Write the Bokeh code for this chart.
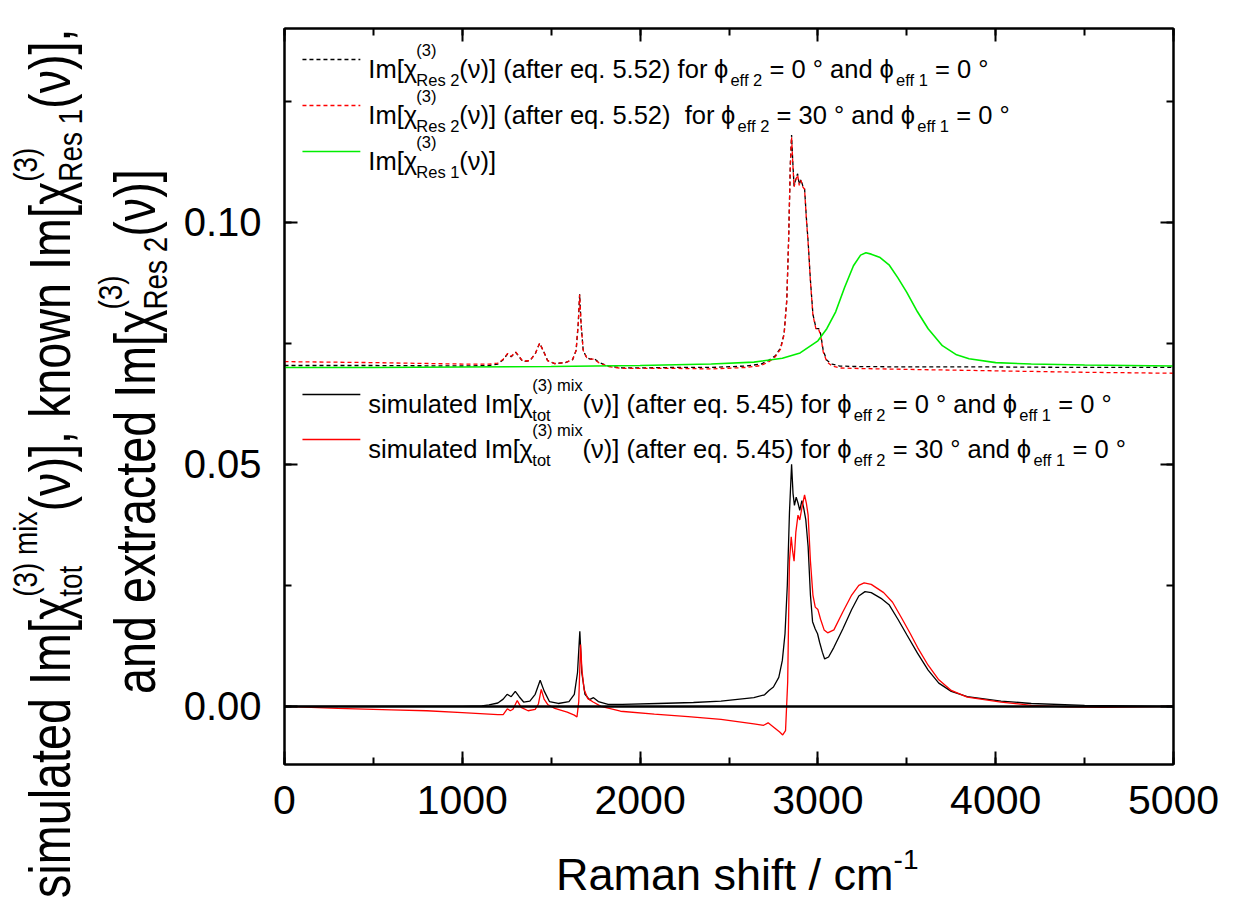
import math
from bokeh.plotting import figure
from bokeh.models import (Label, Span, LinearAxis, SingleIntervalTicker, PrintfTickFormatter, Range1d,
                          Div, CustomJSTickFormatter)
from bokeh.layouts import row, column
from bokeh.embed import file_html
from bokeh.resources import INLINE

# ---------------- data ----------------
res2_phi0_x = [0, 500, 1000, 1150, 1200, 1230, 1255, 1275, 1300, 1320, 1340, 1380, 1410, 1435, 1455, 1480,
               1520, 1580, 1620, 1640, 1652, 1660, 1668, 1680, 1700, 1720, 1742, 1770, 1820, 1900, 2000,
               2200, 2400, 2600, 2680, 2720, 2740, 2760, 2790, 2810, 2825, 2835, 2845, 2852, 2858, 2866,
               2876, 2886, 2895, 2905, 2915, 2925, 2935, 2945, 2958, 2972, 2990, 3005, 3015, 3030, 3050,
               3080, 3120, 3200, 3500, 4000, 4500, 5000]
res2_phi0_y = [0.0704, 0.0704, 0.0703, 0.0704, 0.0707, 0.0716, 0.0728, 0.0722, 0.0731, 0.0722, 0.0712, 0.0714,
               0.0728, 0.0750, 0.0735, 0.0714, 0.0708, 0.0710, 0.0716, 0.0735, 0.0790, 0.0851, 0.0790, 0.0735,
               0.0720, 0.0717, 0.0718, 0.0710, 0.0703, 0.0699, 0.0699, 0.0700, 0.0700, 0.0703, 0.0707, 0.0714,
               0.0719, 0.0724, 0.0740, 0.0770, 0.0840, 0.0960, 0.1120, 0.1180, 0.1130, 0.1075, 0.1090, 0.1100,
               0.1078, 0.1088, 0.1075, 0.1070, 0.1010, 0.0960, 0.0880, 0.0810, 0.0780, 0.0780, 0.0770, 0.0735,
               0.0715, 0.0707, 0.0703, 0.0702, 0.0701, 0.0701, 0.0700, 0.0700]

res2_phi30_x = res2_phi0_x
res2_phi30_y = [0.0712, 0.0710, 0.0707, 0.0707, 0.0709, 0.0717, 0.0729, 0.0723, 0.0732, 0.0723, 0.0713, 0.0714,
                0.0728, 0.0750, 0.0735, 0.0714, 0.0708, 0.0710, 0.0716, 0.0735, 0.0790, 0.0850, 0.0790, 0.0735,
                0.0720, 0.0717, 0.0717, 0.0709, 0.0702, 0.0698, 0.0698, 0.0698, 0.0697, 0.0700, 0.0704, 0.0711,
                0.0716, 0.0722, 0.0738, 0.0768, 0.0838, 0.0958, 0.1118, 0.1176, 0.1128, 0.1073, 0.1088, 0.1098,
                0.1076, 0.1086, 0.1073, 0.1068, 0.1008, 0.0958, 0.0878, 0.0808, 0.0778, 0.0778, 0.0767, 0.0732,
                0.0712, 0.0703, 0.0699, 0.0698, 0.0696, 0.0693, 0.0690, 0.0688]

res1_x = [0, 500, 1000, 1500, 2000, 2400, 2640, 2800, 2900, 3000, 3050, 3100, 3150, 3200, 3240, 3270, 3300,
          3350, 3400, 3450, 3500, 3560, 3620, 3700, 3780, 3850, 4000, 4200, 4500, 5000]
res1_y = [0.0700, 0.0700, 0.0701, 0.0702, 0.0704, 0.0707, 0.0711, 0.0719, 0.0730, 0.0755, 0.0780, 0.0815,
          0.0865, 0.0910, 0.0932, 0.0937, 0.0934, 0.0927, 0.0912, 0.0885, 0.0855, 0.0815, 0.0780, 0.0745,
          0.0726, 0.0718, 0.0710, 0.0707, 0.0705, 0.0703]

tot_phi0_x = [0, 500, 1000, 1110, 1150, 1200, 1230, 1252, 1275, 1298, 1320, 1345, 1380, 1410, 1438, 1460, 1490,
              1540, 1600, 1630, 1648, 1661, 1672, 1690, 1715, 1738, 1765, 1820, 1900, 2100, 2300, 2455, 2640,
              2700, 2725, 2750, 2780, 2800, 2815, 2828, 2840, 2852, 2860, 2868, 2878, 2888, 2898, 2910, 2920,
              2932, 2945, 2958, 2970, 2985, 2998, 3010, 3025, 3038, 3060, 3090, 3140, 3190, 3230, 3265, 3300,
              3360, 3400, 3450, 3500, 3560, 3620, 3680, 3750, 3840, 4030, 4200, 4500, 5000]
tot_phi0_y = [0.0000, 0.0000, 0.0000, 0.0001, 0.0003, 0.0007, 0.0015, 0.0025, 0.0020, 0.0031, 0.0020, 0.0009,
              0.0011, 0.0025, 0.0054, 0.0032, 0.0010, 0.0006, 0.0010, 0.0025, 0.0070, 0.0155, 0.0070, 0.0025,
              0.0014, 0.0018, 0.0010, 0.0004, 0.0004, 0.0006, 0.0008, 0.0011, 0.0018, 0.0024, 0.0033, 0.0040,
              0.0060, 0.0095, 0.0150, 0.0250, 0.0400, 0.0500, 0.0440, 0.0415, 0.0432, 0.0420, 0.0405, 0.0425,
              0.0410, 0.0385, 0.0330, 0.0230, 0.0175, 0.0160, 0.0150, 0.0132, 0.0112, 0.0098, 0.0102, 0.0122,
              0.0160, 0.0200, 0.0228, 0.0237, 0.0235, 0.0222, 0.0210, 0.0180, 0.0148, 0.0110, 0.0075, 0.0048,
              0.0031, 0.0020, 0.0011, 0.0006, 0.0002, 0.0000]

tot_phi30_x = [0, 300, 600, 800, 1000, 1200, 1230, 1253, 1270, 1285, 1309, 1331, 1370, 1410, 1428, 1444, 1460,
               1480, 1520, 1590, 1630, 1645, 1655, 1665, 1673, 1685, 1706, 1736, 1780, 1890, 2080, 2270, 2455,
               2640, 2695, 2720, 2755, 2785, 2802, 2818, 2830, 2840, 2850, 2858, 2866, 2876, 2888, 2898, 2910,
               2925, 2935, 2945, 2958, 2972, 2985, 3000, 3015, 3035, 3055, 3090, 3140, 3190, 3230, 3260, 3300,
               3370, 3420, 3470, 3520, 3560, 3620, 3680, 3750, 3840, 4030, 4200, 4400, 4600, 4800, 5000]
tot_phi30_y = [0.0000, -0.0004, -0.0007, -0.0009, -0.0013, -0.0017, -0.0017, -0.0005, -0.0009, -0.0006, 0.0012,
               -0.0002, -0.0009, -0.0006, 0.0005, 0.0035, 0.0015, 0.0004, -0.0004, -0.0012, -0.0018, -0.0022,
               0.0010, 0.0128, 0.0075, 0.0035, 0.0016, 0.0009, 0.0000, -0.0010, -0.0016, -0.0021, -0.0027,
               -0.0036, -0.0039, -0.0034, -0.0044, -0.0053, -0.0059, -0.0050, 0.0050, 0.0300, 0.0350, 0.0320,
               0.0300, 0.0360, 0.0395, 0.0385, 0.0410, 0.0437, 0.0420, 0.0395, 0.0300, 0.0230, 0.0205, 0.0200,
               0.0180, 0.0158, 0.0152, 0.0158, 0.0195, 0.0230, 0.0250, 0.0255, 0.0252, 0.0235, 0.0215, 0.0183,
               0.0150, 0.0122, 0.0085, 0.0055, 0.0033, 0.0019, 0.0009, 0.0002, -0.0001, -0.0002, -0.0001, 0.0000]

x_ticks_major = 1000
y_ticks_major = 0.05

# ---------------- layout ----------------
OFF_X, OFF_Y = 10, 0                       # observed page offset of the layout
TOTAL_W, TOTAL_H = 1220, 894
YDIV_W = 170                               # column that holds the rotated y title
FRAME_L, FRAME_R, FRAME_T, FRAME_B = 282, 1173, 28, 764   # frame edges in page pixels
PW = TOTAL_W - YDIV_W
PH = 836
X0, X1 = 0, 5000
Y0, Y1 = -0.012, 0.14

def px2x(px):
    return X0 + (px - FRAME_L) / (FRAME_R - FRAME_L) * (X1 - X0)

def py2y(py):
    return Y1 - (py - FRAME_T) / (FRAME_B - FRAME_T) * (Y1 - Y0)

BLEFT = FRAME_L - OFF_X - YDIV_W
p = figure(width=PW, height=PH, output_backend="svg", toolbar_location=None,
           x_range=Range1d(X0, X1), y_range=Range1d(Y0, Y1),
           min_border_left=BLEFT, min_border_right=PW - BLEFT - (FRAME_R - FRAME_L),
           min_border_top=FRAME_T - OFF_Y, min_border_bottom=PH - (FRAME_B - OFF_Y),
           x_axis_location=None, y_axis_location=None)
p.xgrid.visible = False
p.ygrid.visible = False
p.outline_line_color = "black"
p.outline_line_width = 2
p.background_fill_color = "white"
p.border_fill_color = "white"

TICK_FONT = "Liberation Sans"
blank = CustomJSTickFormatter(code="return ''")

def style_axis(ax, show_labels):
    ax.axis_line_color = "black"
    ax.axis_line_width = 2
    ax.major_tick_in = 13
    ax.major_tick_out = 0
    ax.minor_tick_in = 7
    ax.minor_tick_out = 0
    ax.major_tick_line_width = 2
    ax.minor_tick_line_width = 2
    ax.major_tick_line_color = "black"
    ax.minor_tick_line_color = "black"
    if show_labels:
        ax.major_label_text_font = TICK_FONT
        ax.major_label_text_color = "black"
    else:
        ax.formatter = blank
        ax.major_label_text_font_size = "1px"
        ax.major_label_standoff = 0

xb = LinearAxis(ticker=SingleIntervalTicker(interval=x_ticks_major, num_minor_ticks=2))
style_axis(xb, True)
xb.major_label_text_font_size = "41px"
xb.major_label_standoff = 21
xt = LinearAxis(ticker=SingleIntervalTicker(interval=x_ticks_major, num_minor_ticks=2))
style_axis(xt, False)
yl = LinearAxis(ticker=SingleIntervalTicker(interval=y_ticks_major, num_minor_ticks=2),
                formatter=PrintfTickFormatter(format="%.2f"))
style_axis(yl, True)
yl.major_label_text_font_size = "40px"
yl.major_label_standoff = 23
yr = LinearAxis(ticker=SingleIntervalTicker(interval=y_ticks_major, num_minor_ticks=2))
style_axis(yr, False)
p.add_layout(xb, "below")
p.add_layout(xt, "above")
p.add_layout(yl, "left")
p.add_layout(yr, "right")

# ---------------- curves ----------------
RED = "#FF0000"
GREEN = "#00EE00"
p.line(res2_phi0_x, res2_phi0_y, line_color="black", line_width=1.3, line_dash="4 3")
p.line(res2_phi30_x, res2_phi30_y, line_color=RED, line_width=1.3, line_dash="4 3")
p.line(res1_x, res1_y, line_color=GREEN, line_width=1.6)
p.line(tot_phi0_x, tot_phi0_y, line_color="black", line_width=1.3)
p.line(tot_phi30_x, tot_phi30_y, line_color=RED, line_width=1.3)
p.add_layout(Span(location=0, dimension="width", line_color="black", line_width=2.5))

# ---------------- rich text helpers ----------------
CW = {' ': 278, '\u00a0': 278, '(': 333, ')': 333, '[': 278, ']': 278, ',': 278, '.': 278, '/': 278,
      '-': 333, '=': 584, '°': 400, '0': 556, '1': 556, '2': 556, '3': 556, '4': 556, '5': 556,
      'I': 278, 'R': 722, 'a': 556, 'c': 500, 'd': 556, 'e': 556, 'f': 278, 'h': 556, 'i': 222,
      'k': 500, 'l': 222, 'm': 833, 'n': 556, 'o': 556, 'q': 556, 'r': 333, 's': 500, 't': 278,
      'u': 556, 'w': 722, 'x': 500, 'χ': 500, 'ν': 500, 'φ': 666, 'ϕ': 650}

def tw(s, size, k=1.0):
    return sum(CW.get(c, 556) for c in s) * size / 1000.0 * k

def pieces(segs, size, small, sup_off, sub_off, k=1.0):
    out = []
    cur = 0.0
    for seg in segs:
        kind = seg[0]
        if kind == 'n':
            items = [(seg[1], size, 0)]
        elif kind == 'sub':
            items = [(seg[1], small, sub_off)]
        elif kind == 'sup':
            items = [(seg[1], small, -sup_off)]
        else:
            items = [(seg[1], small, -sup_off), (seg[2], small, sub_off)]
        adv = 0.0
        for text, sz, off in items:
            t = text.lstrip(' ')
            lead = tw(text[:len(text) - len(t)], sz, k)
            t = t.rstrip(' ')
            out.append((cur + lead, off, t, sz, tw(t, sz, k)))
            adv = max(adv, tw(text, sz, k))
        cur += adv
    return out

def labels_rich(start_px, base_px, segs, size, small, sup_off, sub_off, font):
    for u, v, t, sz, w in pieces(segs, size, small, sup_off, sub_off):
        p.add_layout(Label(x=px2x(start_px + u), y=py2y(base_px + v), text=t,
                           text_font=font, text_font_size=f"{sz}px", text_color="black",
                           text_align="left", text_baseline="alphabetic"))

def svg_rich(segs, size, small, sup_off, sub_off, k, font):
    parts = []
    for u, v, t, sz, w in pieces(segs, size, small, sup_off, sub_off, k):
        parts.append(f'<text x="{u:.1f}" y="{v:.1f}" font-family="{font}" font-size="{sz}px" '
                     f'fill="black" textLength="{w:.1f}" lengthAdjust="spacingAndGlyphs">{t}</text>')
    return "".join(parts)

# ---------------- legend (inside the frame) ----------------
LEG_FONT = "Liberation Sans"
LS, LSS = 25.5, 16.5

def leg_rows(phi2, tot):
    if tot:
        head = [('n', 'simulated Im['), ('n', 'χ'), ('ss', '(3) mix', 'tot'),
                ('n', '(ν)] (after eq. 5.45) for ')]
    else:
        mid = '(ν)] (after eq. 5.52) for ' if phi2 == '0' else '(ν)] (after eq. 5.52)\u00a0 for '
        head = [('n', 'Im['), ('n', 'χ'), ('ss', '(3)', 'Res 2'), ('n', mid)]
    return head + [('n', 'ϕ'), ('sub', 'eff 2'), ('n', f' = {phi2} ° and '), ('n', 'ϕ'),
                   ('sub', 'eff 1'), ('n', ' = 0 °')]

legend_rows = [
    (leg_rows('0', False), 68, "black", "4 3"),
    (leg_rows('30', False), 114, RED, "4 3"),
    ([('n', 'Im['), ('n', 'χ'), ('ss', '(3)', 'Res 1'), ('n', '(ν)]')], 160, GREEN, "solid"),
    (leg_rows('0', True), 403, "black", "solid"),
    (leg_rows('30', True), 448, RED, "solid"),
]
for segs, base, col, dash in legend_rows:
    p.segment(x0=[px2x(300)], y0=[py2y(base - 9)], x1=[px2x(358)], y1=[py2y(base - 9)],
              line_color=col, line_width=1.4 if dash == "solid" else 1.3, line_dash=dash)
    labels_rich(366, base, segs, LS, LSS, 19, 11.5, LEG_FONT)

# ---------------- axis titles (inline SVG text in Divs) ----------------
TFONT = "Liberation Sans"
XDIV_H = TOTAL_H - PH
xdiv_ox, xdiv_oy = OFF_X + YDIV_W + 2, OFF_Y + PH      # page position of the x-title Div
xt_svg = svg_rich([('n', 'Raman shift / cm'), ('sup', '-1')], 45, 28, 21, 0, 1.0, TFONT)
xtitle = Div(width=PW, height=XDIV_H,
             text=f'<svg width="{PW}" height="{XDIV_H}" xmlns="http://www.w3.org/2000/svg">'
                  f'<g transform="translate({553 - xdiv_ox},{885 - xdiv_oy})">{xt_svg}</g></svg>')

YS, YSS, YK = 57, 34, 0.82
line1 = [('n', 'simulated Im['), ('n', 'χ'), ('ss', '(3) mix', 'tot'), ('n', '(ν)], known Im['),
         ('n', 'χ'), ('ss', '(3)', 'Res 1'), ('n', '(ν)],')]
line2 = [('n', 'and extracted Im['), ('n', 'χ'), ('ss', '(3)', 'Res 2'), ('n', '(ν)]')]
l1 = svg_rich(line1, YS, YSS, 33, 12, YK, TFONT)
l2 = svg_rich(line2, YS, YSS, 33, 12, YK, TFONT)
ytitle = Div(width=YDIV_W, height=TOTAL_H,
             text=f'<svg width="{YDIV_W}" height="{TOTAL_H}" xmlns="http://www.w3.org/2000/svg">'
                  f'<g transform="translate({75 - OFF_X},{893 - OFF_Y}) rotate(-90)">{l1}</g>'
                  f'<g transform="translate({160 - OFF_X},{689 - OFF_Y}) rotate(-90)">{l2}</g></svg>')

layout = row(ytitle, column(p, xtitle, spacing=0), spacing=0)
open("out.html", "w").write(file_html(layout, INLINE))
